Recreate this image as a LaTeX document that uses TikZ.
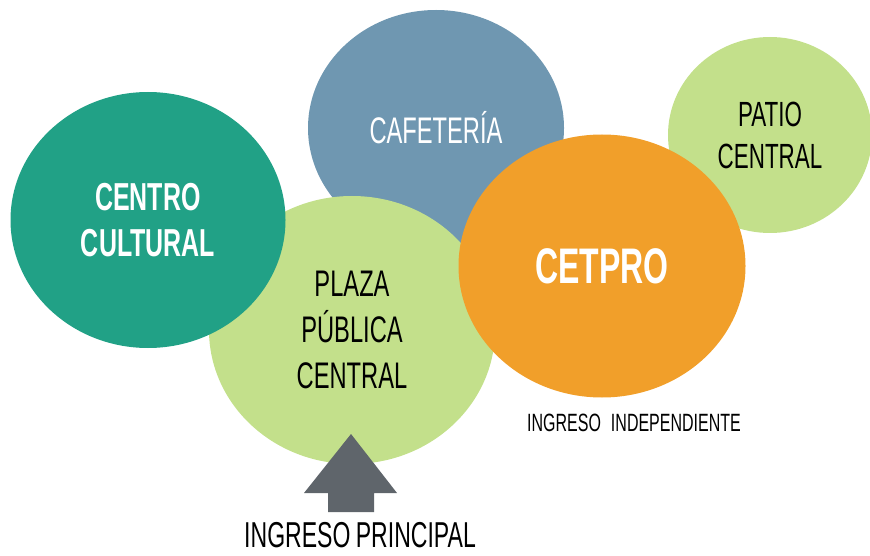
\documentclass[tikz,border=0pt]{standalone}
\usepackage{fontspec}
\setmainfont{Liberation Sans}[FakeStretch=0.64]
\usetikzlibrary{shapes.geometric}
\definecolor{cteal}{HTML}{21A186}
\definecolor{cblue}{HTML}{6F97B1}
\definecolor{cgreen}{HTML}{C3E08B}
\definecolor{corange}{HTML}{F19F2A}
\definecolor{carrow}{HTML}{5F656B}
\tikzset{
  blob/.style={ellipse, inner sep=0pt, align=center, draw=none},
}
\begin{document}
\begin{tikzpicture}[x=1pt,y=-1pt]
\path[use as bounding box] (0,0) rectangle (870,556);
\node[blob, fill=cblue, minimum width=256pt, minimum height=236pt, text=white,
  font=\fontsize{37}{44}\selectfont] (caf) at (436,128) {CAFETERÍA};
\node[blob, fill=cgreen, minimum width=204pt, minimum height=196pt, text=black,
  font=\fontsize{35}{42}\selectfont] (patio) at (770,135) {PATIO\\CENTRAL};
\node[blob, fill=cgreen, minimum width=286pt, minimum height=268pt, text=black,
  font=\fontsize{37}{46}\selectfont] (plaza) at (352,330) {PLAZA\\PÚBLICA\\CENTRAL};
\node[blob, fill=cteal, minimum width=275pt, minimum height=256pt, text=white,
  font=\bfseries\fontsize{39}{46}\selectfont] (centro) at (148,220) {CENTRO\\CULTURAL};
\node[blob, fill=corange, minimum width=287pt, minimum height=263pt, text=white,
  font=\bfseries\fontsize{50}{60}\selectfont] (cetpro) at (602,266) {CETPRO};
\fill[carrow] (351,434) -- (397,493) -- (374,493) -- (374,512) -- (328,512) -- (328,493) -- (304,493) -- cycle;
\node[font=\fontsize{36}{40}\selectfont, inner sep=0pt] (ip) at (360,535) {INGRESO\hspace{0.15em}PRINCIPAL};
\node[font=\fontsize{25}{30}\selectfont, inner sep=0pt] (ii) at (634,423) {INGRESO\hspace{0.4em}INDEPENDIENTE};
\end{tikzpicture}
\end{document}
